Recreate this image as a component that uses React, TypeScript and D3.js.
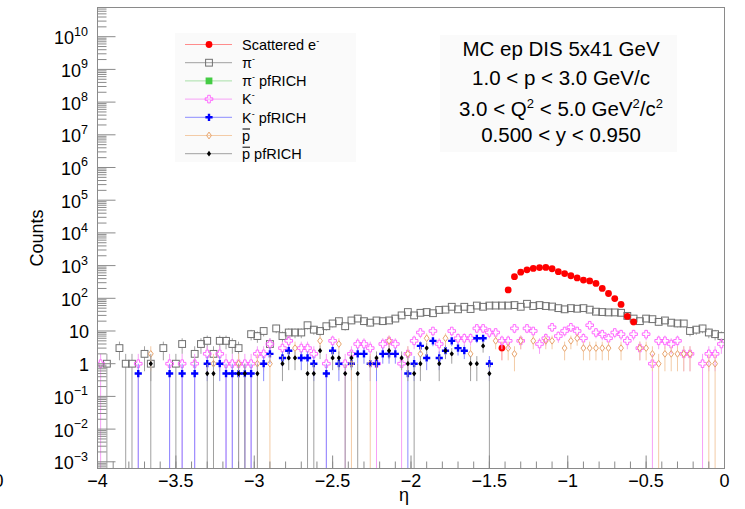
import React from 'react';
import * as d3 from 'd3';

// ---------- data (bin contents, 100 bins of width 0.04 in eta from -4 to 0) ----------
const ETA_MIN = -4;
const ETA_MAX = 0;
const BIN_WIDTH = 0.04;

const electronCounts = [
  0, 0, 0, 0, 0, 0, 0, 0, 0, 0,
  0, 0, 0, 0, 0, 0, 0, 0, 0, 0,
  0, 0, 0, 0, 0, 0, 0, 0, 0, 0,
  0, 0, 0, 0, 0, 0, 0, 0, 0, 0,
  0, 0, 0, 0, 0, 0, 0, 0, 0, 0,
  0, 0, 0, 0, 0, 0, 0, 0, 0, 0,
  0, 0, 0, 0, 3, 180, 460, 630, 740, 820,
  870, 880, 800, 650, 570, 490, 420, 360, 340, 285,
  200, 140, 98, 65, 28, 19, 0, 0, 0, 0,
  0, 0, 0, 0, 0, 0, 0, 0, 0, 0,
];

const pionCounts = [
  0, 1, 0, 3, 1, 1, 0, 2, 1, 0,
  3, 0, 1, 4, 0, 2, 4, 5, 2, 5,
  5, 4, 3, 0, 8, 7, 10, 4, 12, 7,
  9, 9, 9, 15, 11, 10, 14, 17, 20, 14,
  21, 24, 20, 18, 21, 20, 21, 24, 30, 38,
  30, 36, 38, 35, 44, 45, 55, 46, 55, 47,
  60, 55, 60, 60, 60, 60, 62, 55, 68, 58,
  62, 58, 56, 50, 46, 50, 48, 50, 45, 39,
  38, 37, 37, 36, 29, 24, 20, 24, 23, 19,
  21, 18, 17, 17, 10, 11, 12, 9, 8, 7,
];

const pionPfrichCounts: number[] = [];

const kaonCounts = [
  1, 0, 0, 0, 0, 0, 1, 0, 0, 0,
  0, 1, 0, 1, 0, 1, 0, 2, 0, 2,
  1, 1, 1, 1, 1, 2, 2, 4, 0, 3,
  5, 0, 3, 3, 2, 0, 1, 5, 0, 1,
  2, 4, 4, 3, 1, 4, 5, 4, 1, 2,
  5, 9, 0, 10, 4, 0, 10, 6, 6, 6,
  12, 12, 9, 9, 5, 5, 12, 5, 12, 10,
  4, 6, 13, 7, 10, 13, 10, 6, 15, 9,
  8, 6, 9, 8, 5, 8, 3, 8, 1, 5,
  5, 4, 5, 2, 2, 0, 1, 2, 2, 4,
];

const kaonPfrichCounts = [
  0, 0, 0, 0, 0, 0, 0.5, 0, 0, 0,
  0, 0.5, 0, 0.5, 0, 0.5, 0, 1, 0, 1,
  0.5, 0.5, 0.5, 0.5, 0.5, 0, 1, 2, 0, 1.5,
  2.5, 0, 1.5, 1.5, 1, 0, 0.5, 2.5, 1, 0,
  1, 2, 2, 1, 1, 2, 2, 2, 0, 0.5,
  1, 3.5, 1.5, 5, 1.5, 2.5, 5, 3, 2.5, 0,
  6, 6, 1, 0, 0, 0, 0, 0, 0, 0,
  0, 0, 0, 0, 0, 0, 0, 0, 0, 0,
  0, 0, 0, 0, 0, 0, 0, 0, 0, 0,
  0, 0, 0, 0, 0, 0, 0, 0, 0, 0,
];

const pbarCounts = [
  0, 0, 0, 0, 0, 0, 0, 0, 2, 0,
  0, 0, 0, 0, 0, 0, 0, 0, 1, 0,
  0, 0, 1, 0, 0, 1, 0, 1, 0, 0,
  0, 3, 0, 0, 0, 5, 0, 0, 4, 0,
  1, 0, 0, 1, 0, 0, 5, 0, 0, 2,
  0, 2, 6, 0, 0, 6, 0, 0, 0, 2,
  0, 0, 0, 5, 0, 3, 2, 5, 0, 5,
  0, 5, 5, 0, 3, 5, 6, 3, 3, 3,
  3, 3, 0, 3, 0, 0, 3, 3, 2, 1,
  2, 2, 2, 2, 2, 0, 0, 1, 1, 0,
];

const pbarPfrichCounts = [
  0, 0, 0, 0, 0, 0, 0, 0, 1, 0,
  0, 0, 0, 0, 0, 0, 0, 0.5, 0.5, 0,
  0, 0, 0.5, 0.5, 0, 0.5, 0, 0, 0, 1,
  1.5, 1.5, 0, 0.5, 0.5, 2.5, 0, 1.5, 1.5, 0.5,
  1.5, 0.5, 0, 0, 1.5, 0, 2.5, 0, 1.5, 1,
  0.5, 1, 3, 0, 1, 2.5, 2, 0, 0, 1,
  1, 3.5, 0.5, 0, 0, 0, 0, 0, 0, 0,
  0, 0, 0, 0, 0, 0, 0, 0, 0, 0,
  0, 0, 0, 0, 0, 0, 0, 0, 0, 0,
  0, 0, 0, 0, 0, 0, 0, 0, 0, 0,
];

const xTickLabels = ['\u22124', '\u22123.5', '\u22123', '\u22122.5', '\u22122', '\u22121.5', '\u22121', '\u22120.5', '0'];
const yDecades = [-3, -2, -1, 0, 1, 2, 3, 4, 5, 6, 7, 8, 9, 10];

const infoLines = ['MC ep DIS 5x41 GeV', '1.0 < p < 3.0 GeV/c', 'Q2LINE', '0.500 < y < 0.950'];

// ---------- layout ----------
const W = 745;
const H = 509;
const L = 97.5;
const R = 724.5;
const T = 7.5;
const B = 468.5;

const x = d3.scaleLinear().domain([ETA_MIN, ETA_MAX]).range([L, R]);
const y = d3.scaleLog().domain([Math.pow(10, -3.205), Math.pow(10, 10.893)]).range([B, T]);

const FONT = '"Liberation Sans", Arial, Helvetica, sans-serif';

type MarkerKind = 'circle' | 'openSquare' | 'square' | 'openCross' | 'cross' | 'openDiamond' | 'diamond';

function crossPoints(cx: number, cy: number, s: number, a: number) {
  const p = [
    [-a, -s], [a, -s], [a, -a], [s, -a], [s, a], [a, a],
    [a, s], [-a, s], [-a, a], [-s, a], [-s, -a], [-a, -a],
  ];
  return p.map(([dx, dy]) => `${cx + dx},${cy + dy}`).join(' ');
}

function Marker({ kind, cx, cy, color }: { kind: MarkerKind; cx: number; cy: number; color: string }) {
  switch (kind) {
    case 'circle':
      return <circle cx={cx} cy={cy} r={3.4} fill={color} />;
    case 'openSquare':
      return <rect x={cx - 3.4} y={cy - 3.4} width={6.8} height={6.8} fill="none" stroke={color} strokeWidth={1} />;
    case 'square':
      return <rect x={cx - 3.4} y={cy - 3.4} width={6.8} height={6.8} fill={color} />;
    case 'openCross':
      return <polygon points={crossPoints(cx, cy, 3.8, 1.3)} fill="none" stroke={color} strokeWidth={0.9} />;
    case 'cross':
      return <polygon points={crossPoints(cx, cy, 3.6, 1.2)} fill={color} />;
    case 'openDiamond':
      return (
        <polygon
          points={`${cx},${cy - 3.4} ${cx + 2.4},${cy} ${cx},${cy + 3.4} ${cx - 2.4},${cy}`}
          fill="none"
          stroke={color}
          strokeWidth={1}
        />
      );
    case 'diamond':
      return (
        <polygon points={`${cx},${cy - 2.9} ${cx + 2.1},${cy} ${cx},${cy + 2.9} ${cx - 2.1},${cy}`} fill={color} />
      );
  }
  return null;
}

interface Series {
  key: string;
  values: number[];
  weight: number;
  marker: MarkerKind;
  color: string;
  lineColor: string;
  gap: number;
}

const seriesList: Series[] = [
  { key: 'pion', values: pionCounts, weight: 1, marker: 'openSquare', color: '#707070', lineColor: '#a0a0a0', gap: 3.4 },
  { key: 'pionPf', values: pionPfrichCounts, weight: 0.5, marker: 'square', color: '#44cc44', lineColor: '#a8e0a8', gap: 3.4 },
  { key: 'electron', values: electronCounts, weight: 1, marker: 'circle', color: '#ff0000', lineColor: '#ff8c8c', gap: 3.4 },
  { key: 'kaon', values: kaonCounts, weight: 1, marker: 'openCross', color: '#ff5cff', lineColor: '#f7a0f7', gap: 3.8 },
  { key: 'kaonPf', values: kaonPfrichCounts, weight: 0.5, marker: 'cross', color: '#0000ff', lineColor: '#8c8cff', gap: 3.6 },
  { key: 'pbar', values: pbarCounts, weight: 1, marker: 'openDiamond', color: '#e8a46c', lineColor: '#f3cba6', gap: 3.4 },
  { key: 'pbarPf', values: pbarPfrichCounts, weight: 0.5, marker: 'diamond', color: '#000000', lineColor: '#a0a0a0', gap: 2.9 },
];

const legendOrder = ['electron', 'pion', 'pionPf', 'kaon', 'kaonPf', 'pbar', 'pbarPf'];

function legendLabel(key: string) {
  const sup = (s: string) => (
    <tspan dy={-6} fontSize={9}>
      {s}
    </tspan>
  );
  const down = (t: string) => <tspan dy={6}>{t}</tspan>;
  switch (key) {
    case 'electron':
      return <>Scattered e{sup('-')}</>;
    case 'pion':
      return <>π{sup('-')}</>;
    case 'pionPf':
      return <>π{sup('-')}{down(' pfRICH')}</>;
    case 'kaon':
      return <>K{sup('-')}</>;
    case 'kaonPf':
      return <>K{sup('-')}{down(' pfRICH')}</>;
    case 'pbar':
      return <>p</>;
    case 'pbarPf':
      return <>p pfRICH</>;
  }
  return null;
}

export default function App() {
  const binCenter = (i: number) => x(ETA_MIN + BIN_WIDTH * (i + 0.5));

  // axis ticks
  const xMajor = d3.range(0, 9).map((i) => ETA_MIN + i * 0.5);
  const xMinor = d3.range(0, 41).map((i) => ETA_MIN + i * 0.1);
  const yDomain = y.domain();
  const yMinor: number[] = [];
  for (let k = -4; k <= 10; k++) {
    for (let m = 2; m <= 9; m++) {
      const v = m * Math.pow(10, k);
      if (v >= yDomain[0] && v <= yDomain[1]) yMinor.push(v);
    }
  }

  const legendX0 = 185;
  const legendX1 = 232;
  const legendMarkerX = 209;
  const legendTextX = 242;
  const legendRow0 = 44.5;
  const legendStep = 18.2;

  return (
    <svg
      width={W}
      height={H}
      viewBox={`0 0 ${W} ${H}`}
      style={{ position: 'absolute', left: 0, top: 0, background: '#fff' }}
      fontFamily={FONT}
    >
      <defs>
        <clipPath id="frameClip">
          <rect x={L} y={T} width={R - L} height={B - T} />
        </clipPath>
      </defs>
      <rect x={0} y={0} width={W} height={H} fill="#fff" />

      {/* legend & info boxes */}
      <rect x={175} y={33} width={181} height={129} fill="#fafafa" />
      <rect x={440} y={35} width={237} height={117} fill="#fafafa" />

      {/* data */}
      <g clipPath="url(#frameClip)">
        {seriesList.map((s) => (
          <g key={s.key}>
            {s.values.map((v, i) => {
              if (!(v > 0)) return null;
              const cx = binCenter(i);
              const cy = y(v);
              const e = Math.sqrt(v * s.weight);
              const yTop = y(v + e);
              const yBot = v - e > 0 ? y(v - e) : B;
              return (
                <g key={i}>
                  {cy - s.gap > yTop && (
                    <line x1={cx} x2={cx} y1={yTop} y2={cy - s.gap} stroke={s.lineColor} strokeWidth={1} />
                  )}
                  {yBot > cy + s.gap && (
                    <line x1={cx} x2={cx} y1={cy + s.gap} y2={yBot} stroke={s.lineColor} strokeWidth={1} />
                  )}
                </g>
              );
            })}
            {s.values.map((v, i) =>
              v > 0 ? <Marker key={'m' + i} kind={s.marker} cx={binCenter(i)} cy={y(v)} color={s.color} /> : null
            )}
          </g>
        ))}
      </g>

      {/* frame */}
      <rect x={L} y={T} width={R - L} height={B - T} fill="none" stroke="#8a8a8a" strokeWidth={1} />

      {/* x axis ticks */}
      {xMinor.map((v, i) => (
        <line key={'xm' + i} x1={x(v)} x2={x(v)} y1={B} y2={B - 7} stroke="#8a8a8a" strokeWidth={1} />
      ))}
      {xMajor.map((v, i) => (
        <line key={'xM' + i} x1={x(v)} x2={x(v)} y1={B} y2={B - 13} stroke="#8a8a8a" strokeWidth={1} />
      ))}
      {xMajor.map((v, i) => (
        <text key={'xl' + i} x={x(v)} y={487} textAnchor="middle" fontSize={18} fill="#000">
          {xTickLabels[i]}
        </text>
      ))}
      <text x={3.5} y={487} textAnchor="end" fontSize={18} fill="#000">
        0
      </text>

      {/* y axis ticks */}
      {yMinor.map((v, i) => (
        <line key={'ym' + i} x1={L} x2={L + 9} y1={y(v)} y2={y(v)} stroke="#8a8a8a" strokeWidth={1} />
      ))}
      {yDecades.map((k) => (
        <line
          key={'yM' + k}
          x1={L}
          x2={L + 18}
          y1={y(Math.pow(10, k))}
          y2={y(Math.pow(10, k))}
          stroke="#8a8a8a"
          strokeWidth={1}
        />
      ))}
      {yDecades.map((k) => {
        const ty = y(Math.pow(10, k));
        if (k === 0 || k === 1) {
          return (
            <text key={'yl' + k} x={89} y={ty + 7} textAnchor="end" fontSize={18} fill="#000">
              {k === 0 ? '1' : '10'}
            </text>
          );
        }
        return (
          <text key={'yl' + k} x={88} y={ty + 7.5} textAnchor="end" fontSize={18} fill="#000">
            10
            <tspan dy={-8.5} fontSize={12.5}>
              {k < 0 ? '\u2212' + Math.abs(k) : String(k)}
            </tspan>
          </text>
        );
      })}

      {/* axis titles */}
      <text x={43} y={238} transform="rotate(-90, 43, 238)" textAnchor="middle" fontSize={18} fill="#000">
        Counts
      </text>
      <text x={404} y={501} textAnchor="middle" fontSize={18} fill="#000">
        η
      </text>

      {/* legend */}
      {legendOrder.map((key, i) => {
        const s = seriesList.find((d) => d.key === key)!;
        const cy = legendRow0 + i * legendStep;
        return (
          <g key={'lg' + key}>
            <line x1={legendX0} x2={legendX1} y1={cy} y2={cy} stroke={s.lineColor} strokeWidth={1} />
            <Marker kind={s.marker} cx={legendMarkerX} cy={cy} color={s.color} />
            <text x={legendTextX} y={cy + 5.2} fontSize={14.5} fill="#000">
              {legendLabel(key)}
            </text>
            {(key === 'pbar' || key === 'pbarPf') && (
              <line x1={legendTextX + 0.5} x2={legendTextX + 8} y1={cy - 6.5} y2={cy - 6.5} stroke="#000" strokeWidth={1} />
            )}
          </g>
        );
      })}

      {/* info text */}
      {infoLines.map((line, i) => {
        const baselines = [56, 85, 115.5, 141.5];
        const cx = 561;
        if (line === 'Q2LINE') {
          return (
            <text key={'info' + i} x={cx} y={baselines[i]} textAnchor="middle" fontSize={20.5} fill="#000">
              3.0 &lt; Q
              <tspan dy={-8} fontSize={13}>2</tspan>
              <tspan dy={8}> &lt; 5.0 GeV</tspan>
              <tspan dy={-8} fontSize={13}>2</tspan>
              <tspan dy={8}>/c</tspan>
              <tspan dy={-8} fontSize={13}>2</tspan>
            </text>
          );
        }
        return (
          <text key={'info' + i} x={cx} y={baselines[i]} textAnchor="middle" fontSize={20.5} fill="#000">
            {line}
          </text>
        );
      })}
    </svg>
  );
}
